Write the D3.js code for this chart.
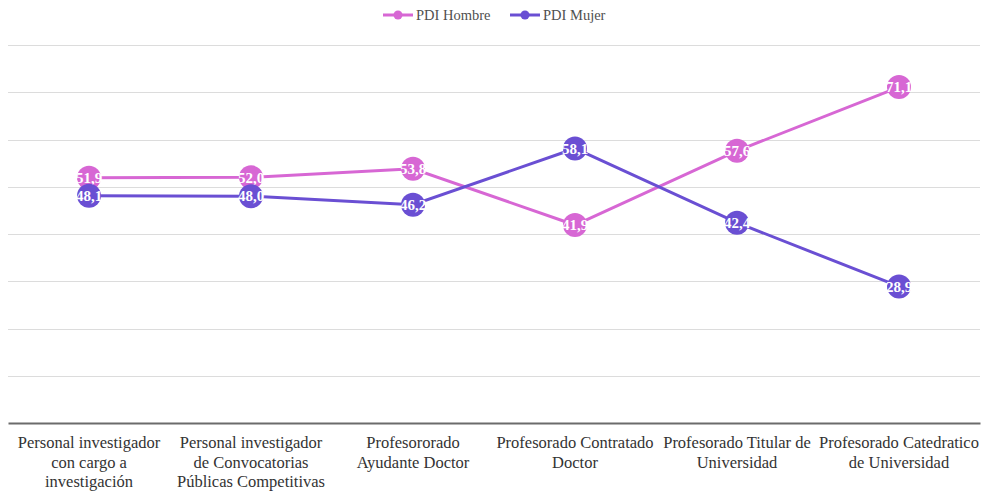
<!DOCTYPE html>
<html>
<head>
<meta charset="utf-8">
<script src="https://cdn.jsdelivr.net/npm/d3@7"></script>
<style>
  html, body { margin: 0; padding: 0; background: #ffffff; }
  svg { display: block; }
</style>
</head>
<body>
<svg id="chart" width="986" height="495"></svg>
<script>
// Categories of teaching/research staff (one line per label row)
const categories = [
  ["Personal investigador", "con cargo a", "investigación"],
  ["Personal investigador", "de Convocatorias", "Públicas Competitivas"],
  ["Profesororado", "Ayudante Doctor"],
  ["Profesorado Contratado", "Doctor"],
  ["Profesorado Titular de", "Universidad"],
  ["Profesorado Catedratico", "de Universidad"]
];
const seriesNames = ["PDI Hombre", "PDI Mujer"];
const hombre = [51.9, 52.0, 53.8, 41.9, 57.6, 71.1];
const mujer  = [48.1, 48.0, 46.2, 58.1, 42.4, 28.9];
const gridTicks = [0, 10, 20, 30, 40, 50, 60, 70, 80];
const colors = ["#d767d4", "#6a4fd3"];
const FONT = '"Liberation Serif", "Times New Roman", serif';

const svg = d3.select("#chart");
const margin = { left: 8, right: 6, top: 45, bottom: 72 };
const W = 986, H = 495;

const x = d3.scaleBand()
  .domain(d3.range(categories.length))
  .range([margin.left, W - margin.right])
  .padding(0);

const y = d3.scaleLinear()
  .domain([0, 80])
  .range([H - margin.bottom, margin.top]);

const fmt = v => d3.format(".1f")(v).replace(".", ",");

// Horizontal gridlines
svg.append("g")
  .selectAll("line")
  .data(gridTicks.filter(t => t > 0))
  .join("line")
  .attr("x1", margin.left)
  .attr("x2", W - margin.right)
  .attr("y1", d => Math.round(y(d)) + 0.5)
  .attr("y2", d => Math.round(y(d)) + 0.5)
  .attr("stroke", "#dcdcdc")
  .attr("stroke-width", 1.2);

// Baseline axis
const xAxis = d3.axisBottom(x).tickSize(0).tickFormat("");
const axisG = svg.append("g")
  .attr("transform", `translate(0,${y(0)})`)
  .call(xAxis);
axisG.select(".domain").attr("stroke", "#6b6b6b").attr("stroke-width", 2.2);

// Category labels (multi-line)
const labelG = svg.append("g").attr("text-anchor", "middle");
categories.forEach((lines, i) => {
  const t = labelG.append("text")
    .attr("x", x(i) + x.bandwidth() / 2)
    .attr("y", y(0) + 25)
    .style("font-family", FONT)
    .style("font-size", "16.5px")
    .style("fill", "#333333");
  lines.forEach((ln, j) => {
    t.append("tspan")
      .attr("x", x(i) + x.bandwidth() / 2)
      .attr("dy", j === 0 ? 0 : 19.5)
      .text(ln);
  });
});

// Series lines, markers and value labels
const line = d3.line()
  .x((d, i) => x(i) + x.bandwidth() / 2)
  .y(d => y(d));

[hombre, mujer].forEach((vals, s) => {
  svg.append("path")
    .datum(vals)
    .attr("fill", "none")
    .attr("stroke", colors[s])
    .attr("stroke-width", 3)
    .attr("d", line);
});

[hombre, mujer].forEach((vals, s) => {
  const g = svg.append("g");
  g.selectAll("circle")
    .data(vals)
    .join("circle")
    .attr("cx", (d, i) => x(i) + x.bandwidth() / 2)
    .attr("cy", d => y(d))
    .attr("r", 12)
    .attr("fill", colors[s]);
  g.selectAll("text")
    .data(vals)
    .join("text")
    .attr("x", (d, i) => x(i) + x.bandwidth() / 2)
    .attr("y", d => y(d))
    .attr("dy", "0.35em")
    .attr("text-anchor", "middle")
    .style("font-family", FONT)
    .style("font-weight", "bold")
    .style("font-size", "15px")
    .style("fill", "#ffffff")
    .text(d => fmt(d));
});

// Legend
const legend = svg.append("g");
const legendItems = [{ x: 383 }, { x: 510 }];
seriesNames.forEach((name, i) => {
  const lx = legendItems[i].x;
  const item = legend.append("g").attr("transform", `translate(${lx},15)`);
  item.append("line")
    .attr("x1", 0).attr("x2", 30)
    .attr("y1", 0).attr("y2", 0)
    .attr("stroke", colors[i]).attr("stroke-width", 3);
  item.append("circle")
    .attr("cx", 15).attr("cy", 0).attr("r", 4.5)
    .attr("fill", colors[i]);
  item.append("text")
    .attr("x", 33).attr("y", 0).attr("dy", "0.35em")
    .style("font-family", FONT)
    .style("font-size", "14.5px")
    .style("fill", "#505050")
    .text(name);
});
</script>
</body>
</html>
